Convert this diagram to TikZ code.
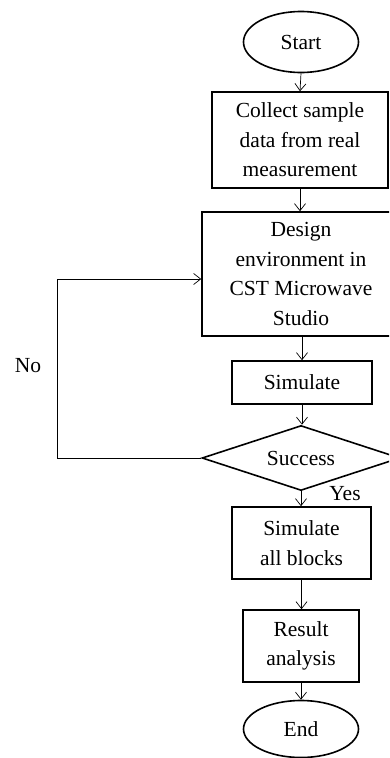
\documentclass[tikz,border=0pt]{standalone}
\usepackage{fontspec}
\setmainfont{Liberation Serif}
\usetikzlibrary{shapes.geometric,arrows.meta}
\begin{document}
\begin{tikzpicture}[x=1pt,y=-1pt,
  lbl/.style={font=\fontsize{21.5}{29.5}\selectfont, align=center, inner sep=0pt},
  boxn/.style={lbl, draw, line width=1.6pt, rectangle},
  ovaln/.style={lbl, draw, line width=1.6pt, ellipse},
  decn/.style={lbl, draw, line width=1.6pt, diamond, aspect=3},
  arr/.style={line width=0.7pt, -{Straight Barb[length=7pt,width=11pt,line width=0.7pt]}}
]
\useasboundingbox (0,0) rectangle (389,758);
\clip (0,0) rectangle (389,758);
\fill[white] (0,0) rectangle (389,758);
\node[ovaln, minimum width=115pt, minimum height=61pt] (start) at (301,42) {Start};
\node[boxn, minimum width=176pt, minimum height=96pt] (collect) at (300,140) {Collect sample\\data from real\\measurement};
\node[boxn, minimum width=198pt, minimum height=124pt] (design) at (301,274) {Design\\environment in\\CST Microwave\\Studio};
\node[boxn, minimum width=140pt, minimum height=43pt] (sim) at (302,382.5) {Simulate};
\node[decn, minimum width=198pt, minimum height=65pt] (succ) at (301,458) {Success};
\node[boxn, minimum width=139pt, minimum height=72pt] (simall) at (301.5,543) {Simulate\\all blocks};
\node[boxn, minimum width=116pt, minimum height=72pt] (res) at (301,646) {Result\\analysis};
\node[ovaln, minimum width=115pt, minimum height=57pt] (end) at (301,729) {End};
\node[lbl] (no) at (28,366) {No};
\node[lbl] (yes) at (345,494) {Yes};
\coordinate (lp) at (57,279);
\draw[arr] (start.south) -- (collect.north);
\draw[arr] (collect.south) -- (design.north -| collect.south);
\draw[arr] (design.south -| sim.north) -- (sim.north);
\draw[arr] (sim.south) -- (succ.north -| sim.south);
\draw[arr] (succ.south) -- (simall.north -| succ.south);
\draw[arr] (simall.south) -- (res.north -| simall.south);
\draw[arr] (res.south) -- (end.north);
\draw[arr] (succ.west) -| (lp) -- (design.west |- lp);
\end{tikzpicture}
\end{document}
